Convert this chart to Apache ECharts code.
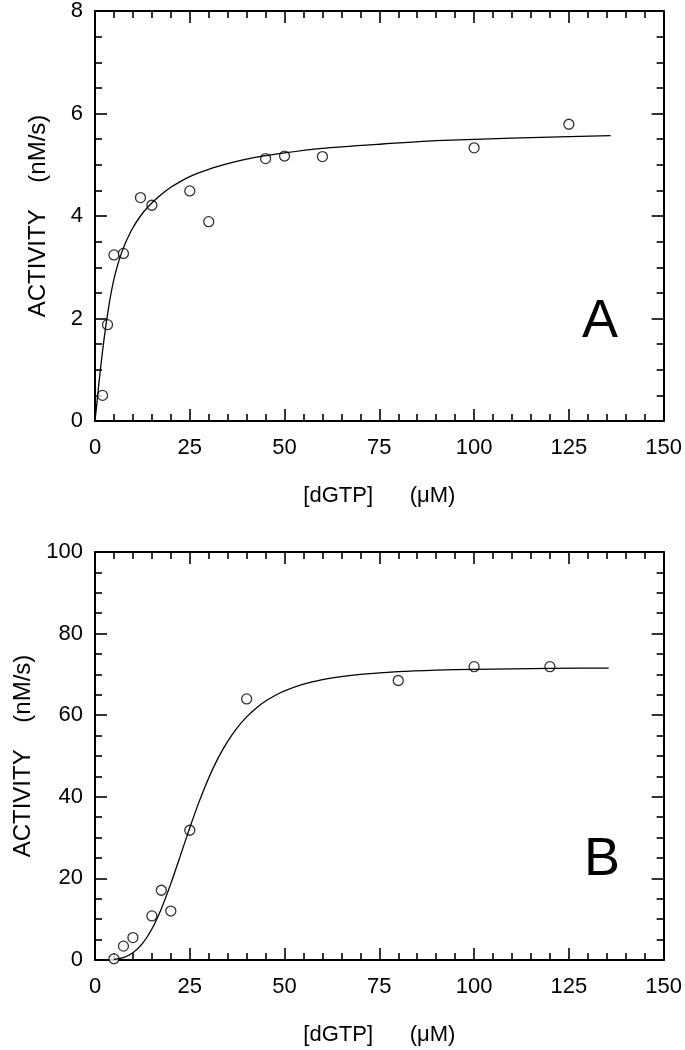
<!DOCTYPE html>
<html>
<head>
<meta charset="utf-8">
<script src="https://cdn.jsdelivr.net/npm/echarts@6/dist/echarts.min.js"></script>
<style>
html,body{margin:0;padding:0;background:#fff;}
#chart{width:685px;height:1050px;}
</style>
</head>
<body>
<div id="chart"></div>
<script>
// Panel A data
const concA = [2, 3.3, 5, 7.5, 12, 15, 25, 30, 45, 50, 60, 100, 125];
const actA  = [0.50, 1.88, 3.24, 3.27, 4.36, 4.21, 4.49, 3.89, 5.12, 5.17, 5.16, 5.33, 5.79];
// Panel A fitted curve
const curveAx = [0, 0.5, 1, 1.5, 2, 2.5, 3, 4, 5, 6, 7, 8, 10, 12, 14, 17, 20, 25, 30, 35, 40, 50, 60, 75, 90, 110, 136];
const curveAy = [0, 0.35, 0.72, 1.05, 1.37, 1.66, 1.93, 2.40, 2.77, 3.05, 3.28, 3.47, 3.77, 4.00, 4.18, 4.39, 4.56, 4.77, 4.91, 5.02, 5.11, 5.23, 5.32, 5.40, 5.47, 5.52, 5.57];
// Panel B data
const concB = [5, 7.5, 10, 15, 17.5, 20, 25, 40, 80, 100, 120];
const actB  = [0.3, 3.4, 5.5, 10.8, 17.1, 12.0, 31.8, 64.0, 68.5, 71.9, 71.9];
// Panel B fitted curve
const curveBx = [5, 7.5, 10, 12.5, 15, 17.5, 20, 22.5, 25, 27.5, 30, 32.5, 35, 37.5, 40, 42.5, 45, 47.5, 50, 55, 60, 65, 70, 80, 90, 100, 120, 135.5];
const curveBy = [0.13, 0.60, 1.77, 4.01, 7.59, 12.58, 18.72, 25.52, 32.40, 38.88, 44.63, 49.53, 53.60, 56.91, 59.59, 61.73, 63.46, 64.84, 65.96, 67.60, 68.71, 69.47, 70.00, 70.67, 71.04, 71.25, 71.48, 71.56];

const FONT = 'Liberation Sans, Arial, sans-serif';
const zip = (xs, ys) => xs.map((x, i) => [x, ys[i]]);

function xAx(grid, pos, showLabel, name) {
  return {
    type: 'value', gridIndex: grid, position: pos, min: 0, max: 150, interval: 25,
    name: name || '', nameLocation: 'middle', nameGap: 64,
    nameTextStyle: {fontFamily: FONT, fontSize: 22, color: '#000'},
    axisLine: {show: true, onZero: false, lineStyle: {color: '#000', width: 2}},
    axisTick: {show: true, inside: true, length: 12, lineStyle: {color: '#000', width: 1.6}},
    minorTick: {show: true, splitNumber: 5, length: 7, lineStyle: {color: '#000', width: 1.6}},
    axisLabel: {show: showLabel, margin: 16, fontFamily: FONT, fontSize: 22, color: '#000'},
    splitLine: {show: false}, minorSplitLine: {show: false}
  };
}
function yAx(grid, pos, showLabel, max, interval, name) {
  return {
    type: 'value', gridIndex: grid, position: pos, min: 0, max: max, interval: interval,
    name: name || '', nameLocation: 'middle', nameGap: 45,
    nameTextStyle: {fontFamily: FONT, fontSize: 24, color: '#000'},
    axisLine: {show: true, onZero: false, lineStyle: {color: '#000', width: 2}},
    axisTick: {show: true, inside: true, length: 12, lineStyle: {color: '#000', width: 1.6}},
    minorTick: {show: true, splitNumber: 4, length: 7, lineStyle: {color: '#000', width: 1.6}},
    axisLabel: {show: showLabel, margin: 12, fontFamily: FONT, fontSize: 22, color: '#000'},
    splitLine: {show: false}, minorSplitLine: {show: false}
  };
}

const xName = '[dGTP]      (\u03BCM)';
const yName = 'ACTIVITY    (nM/s)';

const chart = echarts.init(document.getElementById('chart'), null, {renderer: 'canvas'});
chart.setOption({
  backgroundColor: '#fff',
  animation: false,
  title: [
    {text: 'A', left: 577, top: 290, textStyle: {fontFamily: FONT, fontSize: 54, fontWeight: 'normal', color: '#000'}},
    {text: 'B', left: 579, top: 828, textStyle: {fontFamily: FONT, fontSize: 54, fontWeight: 'normal', color: '#000'}}
  ],
  grid: [
    {left: 95, right: 21, top: 11, height: 410},
    {left: 95, right: 21, top: 552, height: 408}
  ],
  xAxis: [
    xAx(0, 'bottom', true, xName),
    xAx(0, 'top', false),
    xAx(1, 'bottom', true, xName),
    xAx(1, 'top', false)
  ],
  yAxis: [
    yAx(0, 'left', true, 8, 2, yName),
    yAx(0, 'right', false, 8, 2),
    yAx(1, 'left', true, 100, 20, yName),
    yAx(1, 'right', false, 100, 20)
  ],
  series: [
    {type: 'line', xAxisIndex: 0, yAxisIndex: 0, data: zip(curveAx, curveAy), showSymbol: false,
     smooth: 0.2, lineStyle: {color: '#000', width: 1.3}, silent: true},
    {type: 'scatter', xAxisIndex: 0, yAxisIndex: 0, data: zip(concA, actA), symbol: 'circle', symbolSize: 10,
     itemStyle: {color: '#fff', borderColor: '#000', borderWidth: 1.3}},
    {type: 'line', xAxisIndex: 2, yAxisIndex: 2, data: zip(curveBx, curveBy), showSymbol: false,
     smooth: 0.2, lineStyle: {color: '#000', width: 1.3}, silent: true},
    {type: 'scatter', xAxisIndex: 2, yAxisIndex: 2, data: zip(concB, actB), symbol: 'circle', symbolSize: 10,
     itemStyle: {color: '#fff', borderColor: '#000', borderWidth: 1.3}}
  ]
});
</script>
</body>
</html>
